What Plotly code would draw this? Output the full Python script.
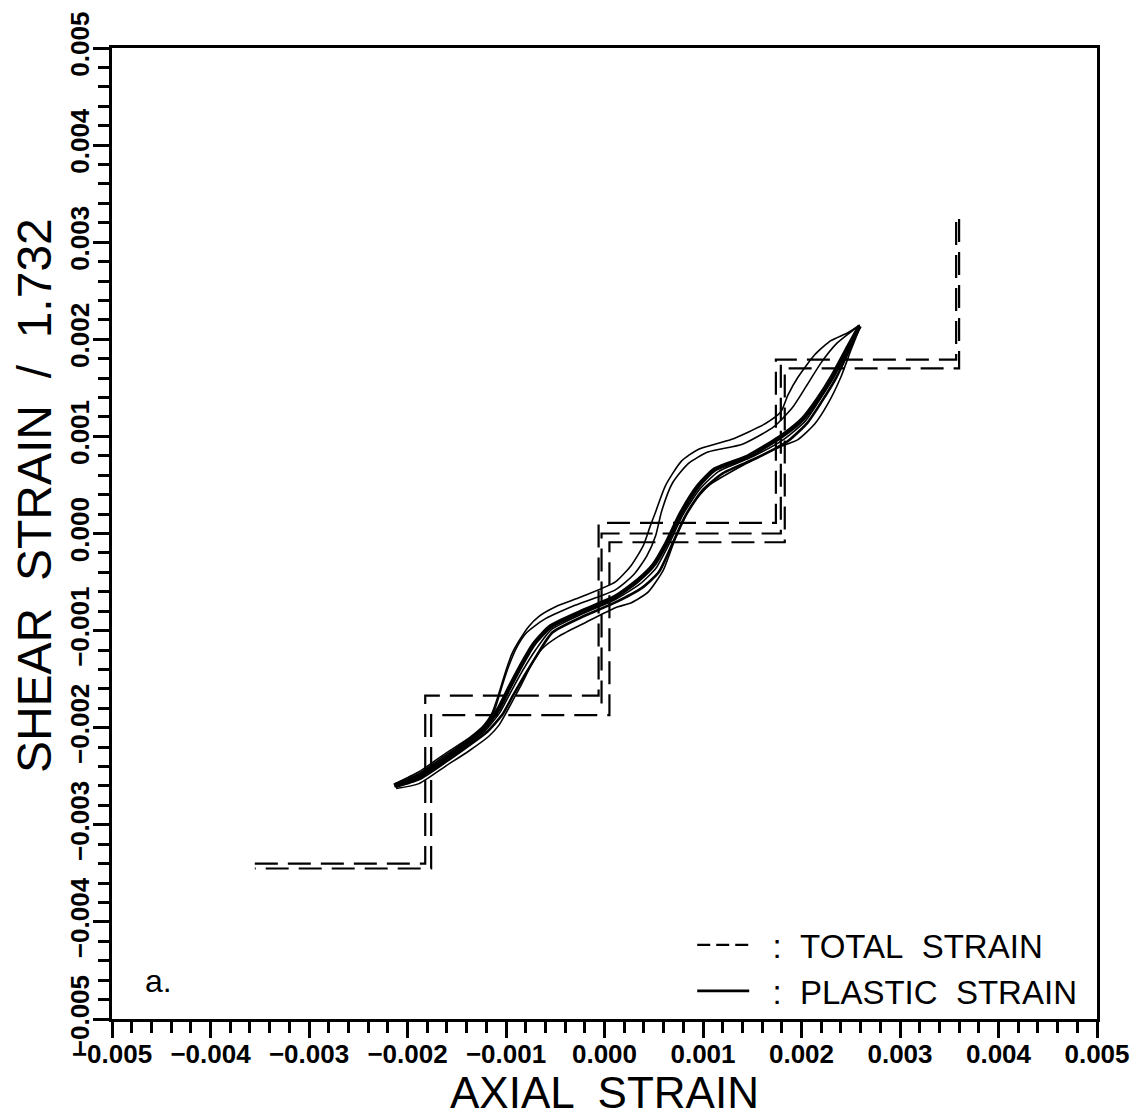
import plotly.graph_objects as go

# All strain values below are stored in units of 1e-3
MILLI = 1e-3

# Total strain: staircase loading path (dashed), traversed up and down
total_up_x = [-3.55, -1.82, -1.82, -0.06, -0.06, 1.74, 1.74, 3.57, 3.57]
total_up_y = [-3.40, -3.40, -1.67, -1.67, 0.11, 0.11, 1.79, 1.79, 3.24]
total_down_x = [3.60, 3.60, 1.83, 1.83, 0.05, 0.05, -1.76, -1.76, -3.55]
total_down_y = [3.24, 1.70, 1.70, -0.09, -0.09, -1.87, -1.87, -3.45, -3.45]
total_mid_x = [-0.03, -0.03, 1.79, 1.79]
total_mid_y = [-1.75, 0.00, 0.00, 1.74]

# Plastic strain: family of solid curves forming narrow loops
plastic_upper_x = [-2.126, -1.883, -1.609, -1.377, -1.225, -1.144, -1.073, -1.002, -0.941, -0.870,
                   -0.769, -0.668, -0.496, -0.233, 0.111, 0.273, 0.395, 0.466, 0.516, 0.617,
                   0.779, 0.951, 1.285, 1.630, 1.791, 1.862, 1.964, 2.136, 2.298, 2.470, 2.591]
plastic_upper_y = [-2.576, -2.454, -2.261, -2.108, -1.976, -1.853, -1.650, -1.415, -1.242, -1.110,
                   -0.957, -0.855, -0.754, -0.652, -0.499, -0.326, -0.122, 0.081, 0.214, 0.489,
                   0.743, 0.866, 0.967, 1.130, 1.253, 1.426, 1.609, 1.843, 1.986, 2.067, 2.149]

plastic_inner1_x = [-2.13, -1.88, -1.61, -1.39, -1.21, -1.11, -1.04, -0.97, -0.90, -0.79, -0.62,
                    -0.30, 0.11, 0.30, 0.43, 0.52, 0.58, 0.69, 0.85, 1.05, 1.40, 1.72, 1.91,
                    2.05, 2.20, 2.36, 2.52, 2.59]
plastic_inner1_y = [-2.59, -2.47, -2.28, -2.13, -1.98, -1.80, -1.57, -1.36, -1.19, -1.02, -0.89,
                    -0.74, -0.58, -0.42, -0.23, -0.02, 0.23, 0.52, 0.72, 0.84, 0.92, 1.10, 1.30,
                    1.52, 1.76, 1.96, 2.09, 2.14]

plastic_center_x = [-2.136, -1.883, -1.609, -1.407, -1.225, -1.073, -0.972, -0.850, -0.719, -0.547,
                    -0.233, 0.111, 0.344, 0.496, 0.617, 0.779, 0.951, 1.123, 1.457, 1.791,
                    2.014, 2.166, 2.318, 2.470, 2.591]
plastic_center_y = [-2.597, -2.495, -2.312, -2.159, -2.006, -1.802, -1.599, -1.365, -1.141, -0.957,
                    -0.804, -0.652, -0.479, -0.326, -0.122, 0.214, 0.489, 0.662, 0.794, 0.998,
                    1.181, 1.385, 1.629, 1.914, 2.138]

plastic_inner3_x = [-2.13, -1.88, -1.61, -1.40, -1.21, -1.06, -0.95, -0.83, -0.70, -0.54, -0.23,
                    0.11, 0.36, 0.52, 0.64, 0.80, 0.97, 1.16, 1.50, 1.82, 2.04, 2.18, 2.33,
                    2.47, 2.59]
plastic_inner3_y = [-2.60, -2.51, -2.33, -2.18, -2.03, -1.84, -1.63, -1.41, -1.20, -0.99, -0.83,
                    -0.68, -0.52, -0.36, -0.14, 0.20, 0.46, 0.64, 0.79, 0.97, 1.16, 1.37, 1.61,
                    1.90, 2.13]

plastic_inner2_x = [-2.12, -1.88, -1.61, -1.40, -1.20, -1.04, -0.93, -0.81, -0.69, -0.53, -0.23,
                    0.11, 0.38, 0.55, 0.67, 0.82, 0.99, 1.20, 1.55, 1.86, 2.06, 2.20, 2.35,
                    2.48, 2.59]
plastic_inner2_y = [-2.61, -2.53, -2.35, -2.20, -2.05, -1.87, -1.67, -1.46, -1.26, -1.02, -0.86,
                    -0.71, -0.56, -0.40, -0.15, 0.18, 0.44, 0.62, 0.78, 0.95, 1.14, 1.35, 1.60,
                    1.88, 2.13]

plastic_lower_x = [-2.115, -1.883, -1.609, -1.377, -1.174, -1.073, -1.002, -0.921, -0.840, -0.739,
                   -0.638, -0.466, -0.192, 0.111, 0.273, 0.445, 0.597, 0.719, 0.881, 1.053,
                   1.387, 1.791, 1.964, 2.136, 2.267, 2.399, 2.500, 2.591]
plastic_lower_y = [-2.627, -2.576, -2.393, -2.240, -2.088, -1.976, -1.853, -1.701, -1.548, -1.344,
                   -1.191, -1.059, -0.916, -0.764, -0.713, -0.601, -0.377, -0.051, 0.285, 0.489,
                   0.692, 0.896, 0.967, 1.130, 1.334, 1.609, 1.884, 2.118]

axis_range = [-0.005, 0.005]
tick_step = 0.001
minor_step = 0.0002

legend_total = "\u00a0\u00a0:\u00a0\u00a0TOTAL\u00a0\u00a0STRAIN"
legend_plastic = "\u00a0\u00a0:\u00a0\u00a0PLASTIC\u00a0\u00a0STRAIN"

FONT = "Liberation Sans, Arial, sans-serif"
INK = "black"


def scaled(vals):
    return [v * MILLI for v in vals]


fig = go.Figure()

# dashed total-strain staircase
for xs, ys in [(total_up_x, total_up_y), (total_down_x, total_down_y),
               (total_mid_x, total_mid_y)]:
    fig.add_trace(go.Scatter(
        x=scaled(xs), y=scaled(ys), mode="lines",
        line=dict(color=INK, width=2.2, dash="23px,10px"),
        showlegend=False, hoverinfo="skip",
    ))

# solid plastic-strain curves
plastic_sets = [
    (plastic_upper_x, plastic_upper_y, 1.6),
    (plastic_inner1_x, plastic_inner1_y, 1.6),
    (plastic_center_x, plastic_center_y, 4.5),
    (plastic_inner3_x, plastic_inner3_y, 1.6),
    (plastic_inner2_x, plastic_inner2_y, 2.6),
    (plastic_lower_x, plastic_lower_y, 1.6),
]
for xs, ys, w in plastic_sets:
    fig.add_trace(go.Scatter(
        x=scaled(xs), y=scaled(ys), mode="lines",
        line=dict(color=INK, width=w, shape="spline", smoothing=0.6),
        showlegend=False, hoverinfo="skip",
    ))

# legend keys (no data of their own)
fig.add_trace(go.Scatter(x=[None], y=[None], mode="lines", name=legend_total,
                         line=dict(color=INK, width=2.2, dash="13px,6px"), legendrank=1))
fig.add_trace(go.Scatter(x=[None], y=[None], mode="lines", name=legend_plastic,
                         line=dict(color=INK, width=2.6), legendrank=2))

axis_common = dict(
    range=axis_range, dtick=tick_step, tick0=0, tickformat=".3f",
    ticks="outside", ticklen=16, tickwidth=3, tickcolor=INK,
    showline=True, linewidth=3, linecolor=INK, mirror=True,
    showgrid=False, zeroline=False,
    tickfont=dict(family=FONT, size=26, color=INK, weight="bold"),
    ticklabelstandoff=-6, ticklabeloverflow="allow",
    minor=dict(dtick=minor_step, ticks="outside", ticklen=11, tickwidth=2.5, tickcolor=INK),
)

fig.update_layout(
    width=1142, height=1120,
    margin=dict(l=112, r=42, t=37, b=101),
    paper_bgcolor="white", plot_bgcolor="white",
    xaxis=dict(**axis_common),
    yaxis=dict(**axis_common, tickangle=-90),
    showlegend=True,
    legend=dict(
        x=0.985, y=0.0, xanchor="right", yanchor="bottom",
        bgcolor="rgba(0,0,0,0)", borderwidth=0,
        font=dict(family=FONT, size=33, color=INK),
        itemwidth=52, tracegroupgap=0,
    ),
    annotations=[
        dict(text="AXIAL  STRAIN", xref="paper", yref="paper", x=0.5, y=-0.0755,
             xanchor="center", yanchor="middle", showarrow=False,
             font=dict(family=FONT, size=44, color=INK)),
        dict(text="SHEAR  STRAIN  /  1.732", xref="paper", yref="paper", x=-0.078, y=0.5387,
             xanchor="center", yanchor="middle", showarrow=False, textangle=-90,
             font=dict(family=FONT, size=48, color=INK)),
        dict(text="a.", xref="paper", yref="paper", x=0.047, y=0.039,
             xanchor="center", yanchor="middle", showarrow=False,
             font=dict(family=FONT, size=32, color=INK)),
    ],
)

fig.write_html("out.html")
